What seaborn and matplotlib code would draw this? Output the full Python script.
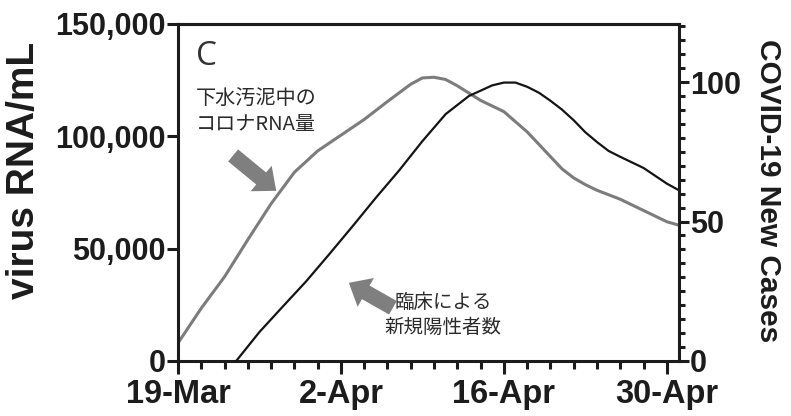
import numpy as np
import pandas as pd
import matplotlib
matplotlib.use("Agg")
import matplotlib.pyplot as plt
import matplotlib.dates as mdates
from matplotlib.ticker import FixedLocator, MultipleLocator
import seaborn as sns

# ---------------- data ----------------
start_date = "2020-03-19"
# sewage sludge RNA (left axis), days after 19-Mar
rna_days = [0, 2, 4, 6, 8, 10, 12, 14, 16, 18, 20, 21, 22, 23, 24, 26, 28, 30,
            31, 32, 33, 34, 35, 36, 38, 40, 42, 43]
rna_values = [8000, 23500, 37500, 54000, 70000, 84000, 93500, 100500, 107500,
              115500, 123200, 126000, 126300, 125300, 122500, 116000, 111000,
              102000, 96500, 91000, 85500, 81500, 78500, 76000, 72000, 67000,
              62000, 60500]
# clinical new cases (right axis)
case_days = [5, 7, 9, 11, 13, 15, 17, 19, 21, 23, 25, 27, 28, 29, 30, 31, 32,
             33, 34, 35, 36, 37, 38, 40, 42, 43]
case_values = [0, 10.4, 19.5, 28.5, 38.3, 48.3, 58.5, 68.3, 78.8, 88.5, 95.0,
               98.8, 99.8, 99.8, 98.3, 96.2, 93.3, 90.1, 86.3, 82.0, 78.5, 75.3,
               73.2, 69.2, 63.6, 61.3]

x_tick_labels = ["19-Mar", "2-Apr", "16-Apr", "30-Apr"]
x_tick_days = [0, 14, 28, 42]
left_ticks = [0, 50000, 100000, 150000]
left_tick_labels = ["0", "50,000", "100,000", "150,000"]
right_ticks = [0, 50, 100]

label_left = "virus RNA/mL"
label_right = "COVID-19 New Cases"
note_rna = "下水汚泥中の\nコロナRNA量"
note_cases = "臨床による\n新規陽性者数"
panel_letter = "C"

# ---------------- build frames ----------------
base = pd.Timestamp(start_date)
df_rna = pd.DataFrame({"date": [base + pd.Timedelta(days=d) for d in rna_days],
                       "value": rna_values})
df_cases = pd.DataFrame({"date": [base + pd.Timedelta(days=d) for d in case_days],
                         "value": case_values})

sns.set_style("ticks")
plt.rcParams["font.family"] = ["Liberation Sans", "DejaVu Sans"]

W, H = 791, 416
fig = plt.figure(figsize=(W / 100, H / 100), dpi=100)
L, R, T, B = 178, 679, 24, 361
ax = fig.add_axes([L / W, (H - B) / H, (R - L) / W, (B - T) / H])
ax2 = ax.twinx()

dark = "#1c1c1c"
sns.lineplot(data=df_rna, x="date", y="value", ax=ax, color="#7c7c7c",
             linewidth=2.2, legend=False)
sns.lineplot(data=df_cases, x="date", y="value", ax=ax2, color="#141414",
             linewidth=1.6, legend=False)

x0 = mdates.date2num(base)
ax.set_xlim(x0, x0 + 43.05)
ax.set_ylim(0, 150000)
ax2.set_ylim(0, 120.8)

ax.xaxis.set_major_locator(FixedLocator([x0 + d for d in x_tick_days]))
ax.xaxis.set_minor_locator(FixedLocator([x0 + d for d in range(0, 44, 2)]))
ax.set_xticklabels(x_tick_labels)
ax.set_yticks(left_ticks)
ax.set_yticklabels(left_tick_labels)
ax2.set_yticks(right_ticks)
ax2.yaxis.set_minor_locator(MultipleLocator(5))

ax.set_xlabel("")
ax.set_ylabel("")
ax2.set_ylabel("")

FP = matplotlib.font_manager.FontProperties
for lab in ax.get_yticklabels() + ax2.get_yticklabels():
    lab.set_fontproperties(FP(family="Liberation Sans", weight="bold", size=22))
    lab.set_color(dark)
for lab in ax.get_xticklabels():
    lab.set_fontproperties(FP(family="Liberation Sans", weight="bold", size=23.5))
    lab.set_color(dark)

for a in (ax, ax2):
    for s in a.spines.values():
        s.set_linewidth(2.2)
        s.set_color(dark)
ax.spines["right"].set_visible(False)
ax2.spines["left"].set_visible(False)
ax2.spines["bottom"].set_visible(False)

ax.tick_params(axis="x", which="major", length=9, width=2.2, color=dark, pad=4)
ax.tick_params(axis="x", which="minor", length=6, width=2.2, color=dark)
ax.tick_params(axis="y", which="major", length=8, width=2.2, color=dark, pad=1)
ax.tick_params(axis="y", which="minor", length=0)
ax2.tick_params(axis="y", which="major", length=7, width=2.2, color=dark, pad=1)
ax2.tick_params(axis="y", which="minor", length=4.5, width=2.2, color=dark)

# axis titles
fig.text(24 / W, 1 - 170 / H, label_left, rotation=90, ha="center", va="center",
         fontsize=28, fontweight="bold", color=dark, family="Liberation Sans")
fig.text(768 / W, 1 - 191 / H, label_right, rotation=-90, ha="center",
         va="center", fontsize=21.5, fontweight="bold", color=dark,
         family="Liberation Sans")

# panel letter
ax.text(0.036, 0.952, panel_letter, transform=ax.transAxes, ha="left", va="top",
        fontsize=24, color="#333333", family="Open Sans")

# annotations
jp = ["Noto Sans CJK JP", "DejaVu Sans"]
ax.text(0.156, 0.739, note_rna, transform=ax.transAxes, ha="center",
        va="center", multialignment="center", fontsize=14.5, color="#2a2a2a",
        family=jp, linespacing=1.25)
ax.text(0.529, 0.136, note_cases, transform=ax.transAxes, ha="center",
        va="center", multialignment="center", fontsize=14, color="#2a2a2a",
        family=jp, linespacing=1.25)

arrow_style = "simple,head_length=1.0,head_width=1.7,tail_width=0.8"
ax.annotate("", xy=(0.196, 0.505), xytext=(0.110, 0.610),
            xycoords="axes fraction", textcoords="axes fraction",
            arrowprops=dict(arrowstyle=arrow_style, color="#7f7f7f", lw=0,
                            mutation_scale=14, shrinkA=0, shrinkB=0))
ax.annotate("", xy=(0.341, 0.232), xytext=(0.429, 0.158),
            xycoords="axes fraction", textcoords="axes fraction",
            arrowprops=dict(arrowstyle=arrow_style, color="#7f7f7f", lw=0,
                            mutation_scale=14, shrinkA=0, shrinkB=0))

fig.savefig("out.png", dpi=100, facecolor="white")
